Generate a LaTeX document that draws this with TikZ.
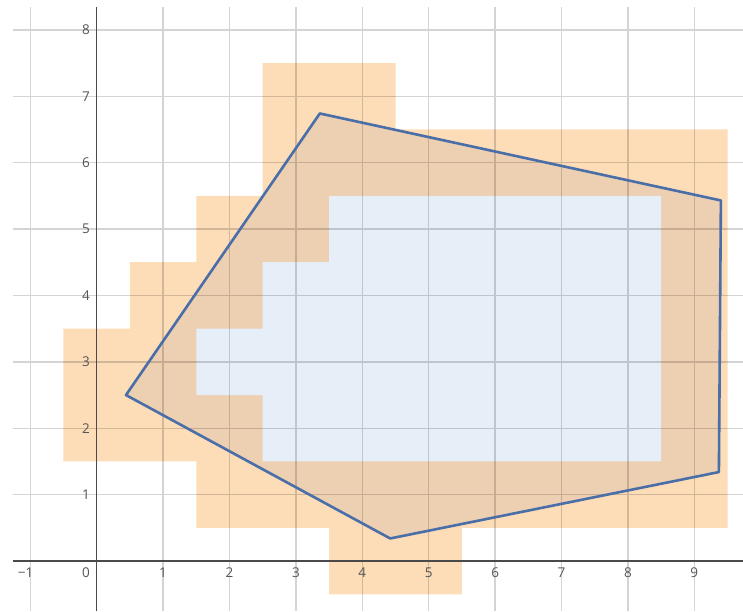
\documentclass[tikz,border=0pt]{standalone}
\usepackage{fontspec}
\setmainfont{Open Sans}
\definecolor{cellorange}{HTML}{FDDCB8}
\definecolor{celltan}{HTML}{EDCFB2}
\definecolor{cellblue}{HTML}{E6EEF8}
\definecolor{polyblue}{HTML}{4A6EA8}
\definecolor{axisgray}{HTML}{4A4A4A}
\definecolor{labelgray}{HTML}{555555}
\begin{document}
\begin{tikzpicture}[x=66.4pt,y=66.4pt,
  gridline/.style={black, draw opacity=0.17, line width=1.4pt},
  axisline/.style={axisgray, line width=1.4pt},
  ticklabel/.style={text=labelgray, font=\fontsize{13.5}{15}\selectfont, inner sep=0pt},
  outline/.style={polyblue, line width=2.6pt, line join=round}]
\useasboundingbox (-1.456,-0.753) rectangle (9.733,8.449);
% orange cells
\fill[cellorange] (-0.5,1.5) -- (-0.5,3.5) -- (0.5,3.5) -- (0.5,4.5) -- (1.5,4.5)
  -- (1.5,5.5) -- (2.5,5.5) -- (2.5,7.5) -- (4.5,7.5) -- (4.5,6.5) -- (9.5,6.5)
  -- (9.5,0.5) -- (5.5,0.5) -- (5.5,-0.5) -- (3.5,-0.5) -- (3.5,0.5) -- (1.5,0.5)
  -- (1.5,1.5) -- cycle;
% polygon vertices
\coordinate (v1) at (0.441,2.5);
\coordinate (v2) at (3.36,6.74);
\coordinate (v3) at (9.40,5.43);
\coordinate (v4) at (9.37,1.34);
\coordinate (v5) at (4.42,0.34);
\fill[celltan] (v1) -- (v2) -- (v3) -- (v4) -- (v5) -- cycle;
% blue cells
\fill[cellblue] (1.5,2.5) -- (1.5,3.5) -- (2.5,3.5) -- (2.5,4.5) -- (3.5,4.5)
  -- (3.5,5.5) -- (8.5,5.5) -- (8.5,1.5) -- (2.5,1.5) -- (2.5,2.5) -- cycle;
% grid
\draw[gridline]
  \foreach \i in {-1,1,2,...,9} { (\i,-0.753) -- (\i,8.34) }
  \foreach \j in {1,2,...,8} { (-1.26,\j) -- (9.733,\j) };
% axes
\draw[axisline] (-1.26,0) -- (9.733,0);
\draw[axisline] (0,8.34) -- (0,-0.753);
% polygon outline
\draw[outline] (v1) -- (v2) -- (v3) -- (v4) -- (v5) -- cycle;
% labels
\node[ticklabel] (xm1) at (-1.07,-0.17) {−1};
\node[ticklabel] (x0) at (-0.16,-0.17) {0};
\foreach \i in {1,...,9} { \node[ticklabel] (x\i) at (\i,-0.17) {\i}; }
\foreach \j in {1,...,8} { \node[ticklabel] (y\j) at (-0.16,\j) {\j}; }
\end{tikzpicture}
\end{document}
